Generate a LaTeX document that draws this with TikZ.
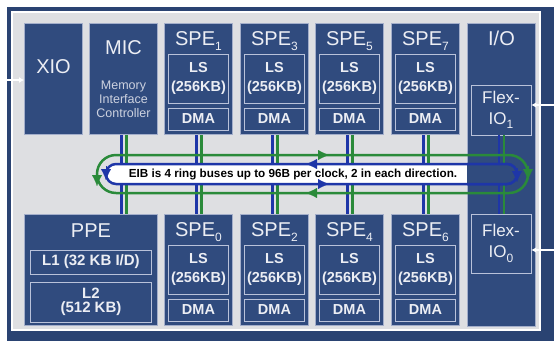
\documentclass[tikz,border=0pt]{standalone}
\usepackage{fontspec}
\setmainfont{Liberation Sans}
\usetikzlibrary{arrows.meta}

\definecolor{framebg}{HTML}{2A4372}
\definecolor{panelbg}{HTML}{DEDFE2}
\definecolor{boxfill}{HTML}{304B7E}
\definecolor{boxedge}{HTML}{A3AECA}
\definecolor{celledge}{HTML}{B9C2DA}
\definecolor{labeltxt}{HTML}{ECEEF4}
\definecolor{softtxt}{HTML}{CDD2E0}
\definecolor{busblue}{HTML}{1E36A8}
\definecolor{busgreen}{HTML}{2A8A3A}

% subscript digit of a unit name
\newcommand\subidx[1]{\raisebox{-4.5pt}{\fontsize{12}{12}\selectfont #1}}

% one synergistic processing element: name, left x, top y, index
\newcommand\spebox[4]{%
  \node[unit={68pt}{111pt}] (#1) at (#2,#3) {};
  \node[title] at ([yshift=-18pt]#1.north) {SPE\subidx{#4}};
  \node[cell, minimum height=49pt] (#1-ls) at ([yshift=-55.5pt]#1.north) {LS\\(256KB)};
  \node[cell, minimum height=22pt] (#1-dma) at ([yshift=-96pt]#1.north) {DMA};
}

\begin{document}
\begin{tikzpicture}[x=1pt,y=-1pt,
  unit/.style 2 args={draw=boxedge, line width=1pt, fill=boxfill, anchor=north west,
    inner sep=0pt, minimum width=#1, minimum height=#2},
  cell/.style={draw=celledge, line width=0.9pt, fill=boxfill, minimum width=60pt,
    inner sep=0pt, align=center, text=labeltxt,
    font=\bfseries\fontsize{14.5}{19}\selectfont},
  title/.style={inner sep=0pt, text=labeltxt, font=\fontsize{20}{20}\selectfont},
  note/.style={inner sep=0pt, align=center, text=softtxt, font=\fontsize{12.5}{14}\selectfont},
  flex/.style={draw=celledge, line width=0.9pt, fill=boxfill, minimum width=60pt,
    inner sep=0pt, align=center, text=labeltxt, font=\fontsize{17}{21}\selectfont},
  busb/.style={draw=busblue, line width=2.2pt},
  busg/.style={draw=busgreen, line width=2.2pt},
  tipb/.style={busblue, line width=0.1pt, -{Latex[length=11pt,width=10pt]}},
  tipg/.style={busgreen, line width=0.1pt, -{Latex[length=11pt,width=10pt]}},
  ext/.style={draw=white, line width=1.6pt, -{Latex[length=5pt,width=6pt]}},
  eibband/.style={draw=busblue, line width=2.5pt, rounded corners=10pt,
    minimum width=411pt, minimum height=20pt, inner sep=0pt},
]
\useasboundingbox (0,0) rectangle (554,341);
\fill[white] (0,0) rectangle (554,341);

% chip frame and panel
\fill[framebg] (7,7) rectangle (554,341);
\draw[white, line width=1.5pt, fill=panelbg] (12,12) rectangle (540,330);

% top row
\node[unit={58pt}{111pt}] (xio) at (24,23) {};
\node[title] at ([yshift=-44pt]xio.north) {XIO};
\node[unit={68pt}{111pt}] (mic) at (89,23) {};
\node[title] at ([yshift=-25pt]mic.north) {MIC};
\node[note] at ([yshift=-76pt]mic.north) {Memory\\Interface\\Controller};
\spebox{spea}{164}{23}{1}
\spebox{speb}{240}{23}{3}
\spebox{spec}{315}{23}{5}
\spebox{sped}{391}{23}{7}

% bottom row
\node[unit={133pt}{111pt}] (ppe) at (24,214) {};
\node[title] at ([yshift=-17pt]ppe.north) {PPE};
\node[cell, minimum width=121pt, minimum height=24pt, font=\bfseries\fontsize{15}{14}\selectfont]
  (l1) at ([yshift=-48pt]ppe.north) {L1 (32 KB I/D)};
\node[cell, minimum width=121pt, minimum height=40pt, font=\bfseries\fontsize{15}{14}\selectfont]
  (l2) at ([yshift=-88pt]ppe.north) {L2\\(512 KB)};
\spebox{spee}{164}{214}{0}
\spebox{spef}{240}{214}{2}
\spebox{speg}{315}{214}{4}
\spebox{speh}{391}{214}{6}

% I/O column
\node[unit={68pt}{303pt}] (io) at (467,23) {};
\node[title] at ([yshift=-15pt]io.north) {I/O};
\node[flex, minimum height=50pt] (flexa) at (501,110) {Flex-\\IO\subidx{1}};
\node[flex, minimum height=59pt] (flexb) at (501,243.5) {Flex-\\IO\subidx{0}};

% element links to the interconnect bus
\foreach \u/\l in {mic/ppe, spea/spee, speb/spef, spec/speg, sped/speh, flexa/flexb}{
  \draw[busb] ([xshift=-2pt]\u.south) -- ([xshift=-2pt]\u.south |- \l.north);
  \draw[busg] ([xshift=3pt]\u.south) -- ([xshift=3pt]\u.south |- \l.north);
}

% outer ring pair
\node[draw=busgreen, line width=2.5pt, rounded corners=19pt, minimum width=431pt,
  minimum height=38pt, inner sep=0pt] (ring) at (312.5,174) {};

% inner ring pair with the bus label
\node[eibband, fill=white] (eib) at (311.5,174) {};
\begin{scope}
  \clip (467,140) rectangle (545,210);
  \node[eibband, fill=boxfill] at (311.5,174) {};
\end{scope}
\node[inner sep=0pt, font=\bfseries\fontsize{11.7}{12}\selectfont] (eibtext) at (293,174.5)
  {EIB is 4 ring buses up to 96B per clock, 2 in each direction.};

% direction marks on the rings
\draw[tipg] (313,155) -- (329,155);
\draw[tipb] (322,164) -- (306,164);
\draw[tipb] (313,184) -- (329,184);
\draw[tipg] (322,193) -- (306,193);
\draw[tipb] (106,166) -- (106,180);
\draw[tipb] (517,168) -- (517,182);
\draw[tipg] (97,172) -- (97,186);
\draw[tipg] (528,166) -- (528,180);

% off-chip links
\coordinate (inl) at (0,80);
\coordinate (outa) at (554,105);
\coordinate (outb) at (554,250);
\draw[ext] (inl) -- (inl -| xio.west);
\draw[ext] (outa) -- (outa -| flexa.east);
\draw[ext] (outb) -- (outb -| flexb.east);
\end{tikzpicture}
\end{document}
